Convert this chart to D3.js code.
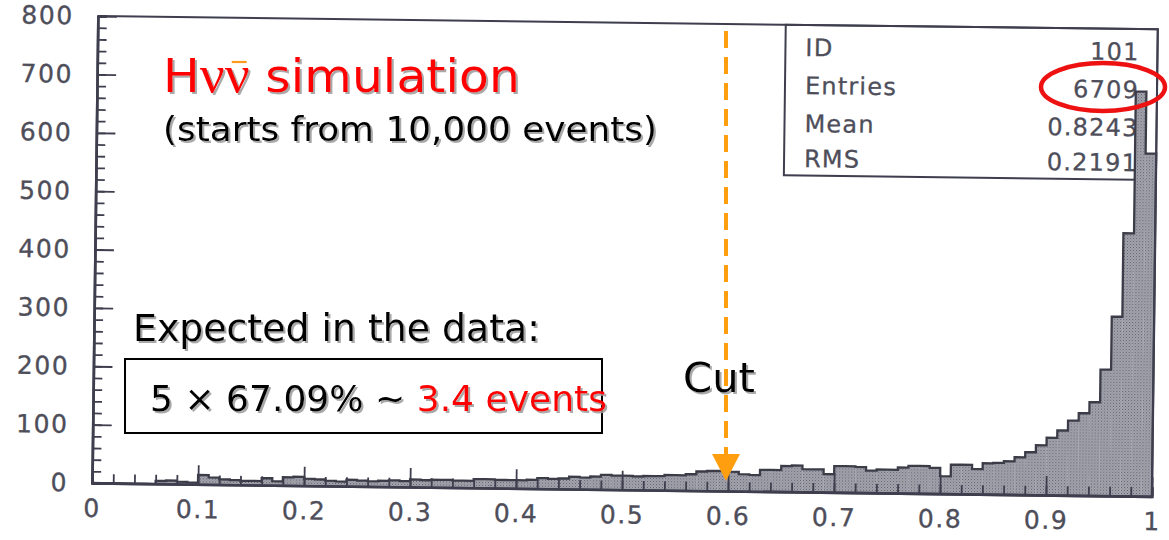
<!DOCTYPE html>
<html>
<head>
<meta charset="utf-8">
<script src="https://cdn.jsdelivr.net/npm/d3@7"></script>
<style>
  html, body { margin: 0; padding: 0; background: #ffffff; }
  svg { display: block; }
</style>
</head>
<body>
<svg id="chart" width="1169" height="540"></svg>
<script>
// Histogram contents: 100 bins of width 0.01 on [0, 1]
const binLow = d3.range(100).map(i => i / 100);
const binCounts = [
  0, 0, 0, 0, 0, 0, 5, 6, 4, 3,
  16, 12, 9, 8, 7, 7, 12, 7, 14, 15,
  12, 11, 9, 8, 11, 10, 9, 10, 11, 10,
  13, 12, 13, 13, 12, 12, 15, 15, 14, 14,
  14, 15, 18, 17, 18, 21, 20, 22, 25, 24,
  24, 23, 24, 24, 26, 26, 28, 33, 34, 34,
  33, 29, 28, 37, 37, 44, 45, 39, 39, 31,
  45, 45, 44, 38, 40, 40, 44, 47, 47, 44,
  30, 50, 50, 43, 53, 54, 57, 64, 73, 85,
  98, 111, 128, 141, 160, 216, 307, 450, 693, 587
];
const binWidth = 0.01;

// Axis ticks
const xTickValues = [0, 0.1, 0.2, 0.3, 0.4, 0.5, 0.6, 0.7, 0.8, 0.9, 1];
const xTickLabels = ["0", "0.1", "0.2", "0.3", "0.4", "0.5", "0.6", "0.7", "0.8", "0.9", "1"];
const yTickValues = [0, 100, 200, 300, 400, 500, 600, 700, 800];
const yTickLabels = ["0", "100", "200", "300", "400", "500", "600", "700", "800"];

// Statistics panel
const statNames = ["ID", "Entries", "Mean", "RMS"];
const statValues = ["101", "6709", "0.8243", "0.2191"];

// Cut position
const cutValue = 0.6;

const svg = d3.select("#chart");
const defs = svg.append("defs");

// halftone fill of the histogram
const pat = defs.append("pattern")
  .attr("id", "halftone").attr("patternUnits", "userSpaceOnUse")
  .attr("width", 3).attr("height", 3);
pat.append("rect").attr("width", 3).attr("height", 3).attr("fill", "#a4a4ab");
pat.append("rect").attr("x", 0).attr("y", 0).attr("width", 1).attr("height", 1).attr("fill", "#5e5e76");
pat.append("rect").attr("x", 1.5).attr("y", 1.5).attr("width", 1).attr("height", 1).attr("fill", "#7a7a90");

// soft drop shadow for slide text
const shadow = defs.append("filter").attr("id", "shadow")
  .attr("x", "-5%").attr("y", "-20%").attr("width", "110%").attr("height", "140%");
shadow.append("feDropShadow")
  .attr("dx", 2).attr("dy", 2).attr("stdDeviation", 0.6)
  .attr("flood-color", "#9a9a9a").attr("flood-opacity", 0.85);

// Plot frame (slightly tilted page)
const plotW = 1060, plotH = 467;
const originX = 92, originY = 483, tilt = 0.72;
const axisColor = "#3e3e4e";
const labelColor = "#4e4e5a";

const x = d3.scaleLinear().domain([0, 1]).range([0, plotW]);
const y = d3.scaleLinear().domain([0, 800]).range([0, -plotH]);

const g = svg.append("g")
  .attr("transform", `translate(${originX},${originY}) rotate(${tilt})`);

// statistics box
const boxLeft = x(0.649), boxBottom = y(542);
g.append("rect")
  .attr("x", boxLeft).attr("y", y(800))
  .attr("width", x(1) - boxLeft).attr("height", boxBottom - y(800))
  .attr("fill", "#ffffff").attr("stroke", axisColor).attr("stroke-width", 2);

const statRowOffsets = [31, 69, 107, 142];
statNames.forEach((name, i) => {
  g.append("text")
    .attr("x", boxLeft + 20).attr("y", y(800) + statRowOffsets[i])
    .attr("font-family", "DejaVu Sans").attr("font-size", 24)
    .attr("letter-spacing", 1.2)
    .attr("fill", labelColor).attr("stroke", labelColor).attr("stroke-width", 0.3)
    .text(name);
  g.append("text")
    .attr("x", x(1) - 18).attr("y", y(800) + statRowOffsets[i])
    .attr("text-anchor", "end")
    .attr("font-family", "DejaVu Sans").attr("font-size", 24)
    .attr("letter-spacing", 1.2)
    .attr("fill", labelColor).attr("stroke", labelColor).attr("stroke-width", 0.3)
    .text(statValues[i]);
});

// histogram bars
const bins = binLow.map((lo, i) => ({ lo, hi: lo + binWidth, n: binCounts[i] }));
g.append("g").selectAll("rect").data(bins).join("rect")
  .attr("x", d => x(d.lo))
  .attr("y", d => y(d.n))
  .attr("width", d => x(d.hi) - x(d.lo) + 0.3)
  .attr("height", d => y(0) - y(d.n))
  .attr("fill", "url(#halftone)");

// step outline along the bin tops
const stepPts = [[x(0), y(0)]];
bins.forEach(d => { stepPts.push([x(d.lo), y(d.n)]); stepPts.push([x(d.hi), y(d.n)]); });
stepPts.push([x(1), y(0)]);
g.append("path")
  .attr("d", d3.line()(stepPts))
  .attr("fill", "none").attr("stroke", "#3c3c48").attr("stroke-width", 2.3)
  .attr("stroke-linejoin", "miter");

// frame: top and right sides
g.append("path")
  .attr("d", d3.line()([[x(0), y(800)], [x(1), y(800)], [x(1), y(0)]]))
  .attr("fill", "none").attr("stroke", axisColor).attr("stroke-width", 2);

// axes with inward ticks
function styleAxis(sel) {
  sel.select(".domain").attr("stroke", axisColor).attr("stroke-width", 2.6);
  sel.selectAll(".tick line").attr("stroke", axisColor).attr("stroke-width", 1.8);
  sel.selectAll(".tick text")
    .attr("font-family", "DejaVu Sans").attr("font-size", 25)
    .attr("letter-spacing", 1.6)
    .attr("fill", labelColor).attr("stroke", labelColor).attr("stroke-width", 0.35);
}

// minor ticks
g.append("g").call(
  d3.axisBottom(x).tickValues(d3.range(0, 1.0001, 0.02)).tickSize(-9).tickFormat("")
).call(styleAxis);
g.append("g").call(
  d3.axisLeft(y).tickValues(d3.range(0, 801, 20)).tickSize(-9).tickFormat("")
).call(styleAxis);

// major ticks + labels
g.append("g").call(
  d3.axisBottom(x).tickValues(xTickValues).tickSize(-19).tickSizeOuter(0)
    .tickPadding(16).tickFormat((d, i) => xTickLabels[i])
).call(styleAxis);
g.append("g").call(
  d3.axisLeft(y).tickValues(yTickValues).tickSize(-19).tickSizeOuter(0)
    .tickPadding(24).tickFormat((d, i) => yTickLabels[i])
).call(styleAxis);

// Cut marker: dashed arrow down to the axis
const cutX = originX + x(cutValue) - 2;
const cutColor = "#ff9f0f";
svg.append("line")
  .attr("x1", cutX).attr("x2", cutX).attr("y1", 31).attr("y2", 456)
  .attr("stroke", cutColor).attr("stroke-width", 4)
  .attr("stroke-dasharray", "17,9");
svg.append("path")
  .attr("d", d3.line()([[cutX - 14, 454], [cutX + 14, 454], [cutX, 481]]) + "Z")
  .attr("fill", cutColor);
svg.append("text")
  .attr("x", 683).attr("y", 392)
  .attr("font-family", "DejaVu Sans").attr("font-size", 40)
  .attr("textLength", 72).attr("lengthAdjust", "spacingAndGlyphs")
  .attr("fill", "#000").attr("filter", "url(#shadow)")
  .text("Cut");

// Title lines
const title = svg.append("text")
  .attr("x", 163).attr("y", 92)
  .attr("font-family", "DejaVu Sans").attr("font-size", 46)
  .attr("textLength", 357).attr("lengthAdjust", "spacingAndGlyphs")
  .attr("fill", "#ff0000").attr("filter", "url(#shadow)");
title.append("tspan").text("H");
title.append("tspan").attr("font-family", "Liberation Serif").attr("font-size", 52).text("νν");
title.append("tspan").text(" simulation");

// bar over the anti-neutrino
const nuStart = title.node().getStartPositionOfChar(2);
const nuEnd = title.node().getEndPositionOfChar(2);
svg.append("line")
  .attr("x1", nuStart.x + 7).attr("x2", nuEnd.x - 3)
  .attr("y1", 62).attr("y2", 62)
  .attr("stroke", "#ff9a20").attr("stroke-width", 2.2);

svg.append("text")
  .attr("x", 163).attr("y", 141)
  .attr("font-family", "DejaVu Sans").attr("font-size", 34)
  .attr("textLength", 494).attr("lengthAdjust", "spacingAndGlyphs")
  .attr("fill", "#000").attr("filter", "url(#shadow)")
  .text("(starts from 10,000 events)");

// Expected yield annotation
svg.append("text")
  .attr("x", 133).attr("y", 341)
  .attr("font-family", "DejaVu Sans").attr("font-size", 37)
  .attr("textLength", 407).attr("lengthAdjust", "spacingAndGlyphs")
  .attr("fill", "#000").attr("filter", "url(#shadow)")
  .text("Expected in the data:");

svg.append("rect")
  .attr("x", 125).attr("y", 359).attr("width", 477).attr("height", 74)
  .attr("fill", "none").attr("stroke", "#000").attr("stroke-width", 2);

const yieldText = svg.append("text")
  .attr("x", 150).attr("y", 411)
  .attr("font-family", "DejaVu Sans").attr("font-size", 35.5)
  .attr("textLength", 457).attr("lengthAdjust", "spacingAndGlyphs")
  .attr("filter", "url(#shadow)");
yieldText.append("tspan").attr("fill", "#000").text("5 × 67.09% ~ ");
yieldText.append("tspan").attr("fill", "#ff0000").text("3.4 events");

// Entries highlighted
svg.append("ellipse")
  .attr("cx", 1103).attr("cy", 87).attr("rx", 62).attr("ry", 24)
  .attr("fill", "none").attr("stroke", "#ee1111").attr("stroke-width", 4.5);
</script>
</body>
</html>
